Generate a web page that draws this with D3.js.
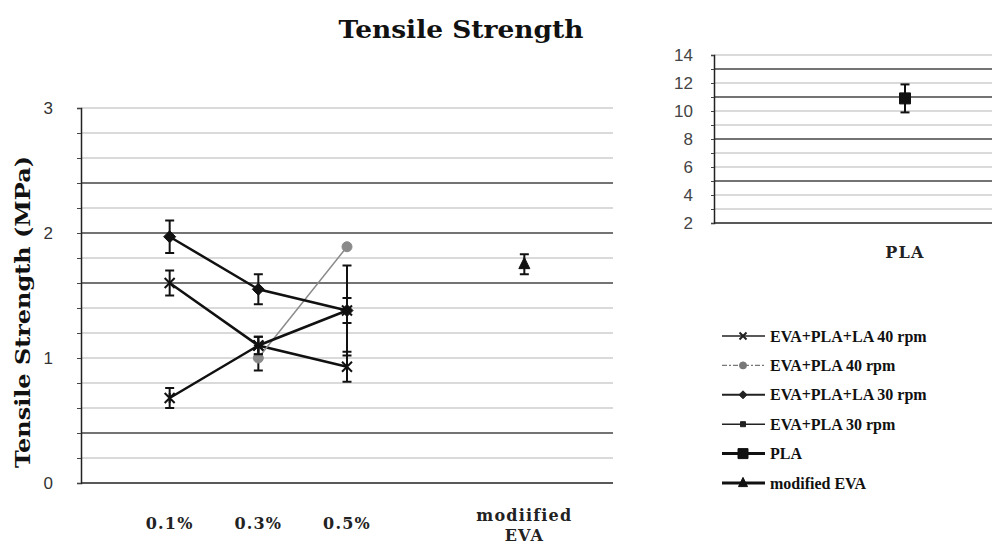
<!DOCTYPE html>
<html>
<head>
<meta charset="utf-8">
<script src="https://cdn.jsdelivr.net/npm/d3@7"></script>
<style>
  body { margin: 0; background: #fff; }
  svg { display: block; }
</style>
</head>
<body>
<svg id="chart" width="992" height="555"></svg>
<script>
// ---- data -------------------------------------------------------------
const categories = ["0.1%", "0.3%", "0.5%", "", "modiified EVA"];
const seriesNames = ["EVA+PLA+LA 40 rpm", "EVA+PLA 40 rpm", "EVA+PLA+LA 30 rpm",
                     "EVA+PLA 30 rpm", "PLA", "modified EVA"];

const evaPlaLa40    = [1.60, 1.10, 0.93];
const evaPlaLa40Err = [0.10, 0.07, 0.12];
const evaPla40      = [null, 1.00, 1.89];
const evaPla40Err   = [null, 0.10, null];
const evaPlaLa30    = [1.97, 1.55, 1.38];
const evaPlaLa30Err = [0.13, 0.12, 0.10];
const evaPla30      = [0.68, 1.10, 1.38];
const evaPla30Err   = [0.08, 0.07, 0.36];
const modifiedEva    = [1.75];
const modifiedEvaErr = [0.08];
const pla    = [10.9];
const plaErr = [1.0];

const mainTickLabels = [0, 1, 2, 3];
const plaTickLabels  = [2, 4, 6, 8, 10, 12, 14];
const mainMajorGrid  = [0.4, 1.6, 2.0, 2.4];
const plaMajorGrid   = [5, 8, 11, 13];

// ---- setup ------------------------------------------------------------
const svg = d3.select("#chart");
svg.append("rect").attr("width", 992).attr("height", 555).attr("fill", "#fff");

const serif = "'DejaVu Serif', 'Liberation Serif', serif";
const timesLike = "'Liberation Serif', 'Times New Roman', serif";
const sans = "'Liberation Sans', Arial, sans-serif";

// marker shapes, centred on 0,0
const markers = {
  times: r => `M${-r},${-r}L${r},${r}M${-r},${r}L${r},${-r}`,
  star: r => `M${-r},${-r}L${r},${r}M${-r},${r}L${r},${-r}M0,${-r}L0,${r}`,
  diamond: r => `M0,${-r}L${r},0L0,${r}L${-r},0Z`,
  square: r => `M${-r},${-r}H${r}V${r}H${-r}Z`,
  triangle: r => `M0,${-r * 1.25}L${r},${r * 0.8}L${-r},${r * 0.8}Z`,
  circle: r => d3.symbol(d3.symbolCircle, Math.PI * r * r)()
};

function drawMarker(g, shape, r, x, y, color, filled) {
  g.append("path")
    .attr("d", markers[shape](r))
    .attr("transform", `translate(${x},${y})`)
    .attr("fill", filled ? color : "none")
    .attr("stroke", color)
    .attr("stroke-width", filled ? 1 : 2);
}

function drawErrorBar(g, x, yScale, v, e) {
  if (v == null || e == null) return;
  const y1 = yScale(v - e), y2 = yScale(v + e);
  g.append("line").attr("x1", x).attr("x2", x).attr("y1", y1).attr("y2", y2)
    .attr("stroke", "#111").attr("stroke-width", 2);
  [y1, y2].forEach(yy => g.append("line")
    .attr("x1", x - 4.5).attr("x2", x + 4.5).attr("y1", yy).attr("y2", yy)
    .attr("stroke", "#111").attr("stroke-width", 2));
}

// ---- main chart -------------------------------------------------------
const main = { left: 81, right: 613, top: 108, bottom: 483 };
const x = d3.scalePoint().domain(categories).range([main.left, main.right]).padding(1);
const y = d3.scaleLinear().domain([0, 3]).range([main.bottom, main.top]);

const gridVals = d3.range(1, 16).map(i => +(i * 0.2).toFixed(1));
svg.append("g").selectAll("line").data(gridVals).join("line")
  .attr("x1", main.left).attr("x2", main.right)
  .attr("y1", d => y(d)).attr("y2", d => y(d))
  .attr("stroke", d => mainMajorGrid.includes(d) ? "#444" : "#b5b5b5")
  .attr("stroke-width", d => mainMajorGrid.includes(d) ? 1.5 : 1);

const yAxis = d3.axisLeft(y)
  .tickValues([0].concat(gridVals))
  .tickSize(4).tickPadding(24)
  .tickFormat(d => mainTickLabels.includes(d) ? d : "");
const gy = svg.append("g").attr("transform", `translate(${main.left},0)`).call(yAxis);
gy.select(".domain").attr("stroke", "#222").attr("stroke-width", 1.5);
gy.selectAll(".tick line").attr("stroke", "#444");
gy.selectAll(".tick text").attr("font-family", sans).attr("font-size", 17).attr("fill", "#333");

svg.append("line").attr("x1", main.left).attr("x2", main.right)
  .attr("y1", main.bottom).attr("y2", main.bottom)
  .attr("stroke", "#222").attr("stroke-width", 1.5);

// category labels
const xl = svg.append("g");
categories.forEach(c => {
  if (!c) return;
  const parts = c.split(" ");
  const t = xl.append("text")
    .attr("x", x(c)).attr("y", parts.length > 1 ? 521 : 529)
    .attr("text-anchor", "middle")
    .attr("font-family", serif).attr("font-weight", "bold").attr("font-size", 16)
    .attr("letter-spacing", 1.2).attr("fill", "#222");
  parts.forEach((p, i) => t.append("tspan").attr("x", x(c)).attr("dy", i ? 20 : 0).text(p));
});

// series
const lineSeries = [
  { name: seriesNames[0], vals: evaPlaLa40, err: evaPlaLa40Err, color: "#111", width: 2.5, marker: "times", r: 5, filled: false },
  { name: seriesNames[1], vals: evaPla40,   err: evaPla40Err,   color: "#8a8a8a", width: 1.5, marker: "circle", r: 5, filled: true },
  { name: seriesNames[2], vals: evaPlaLa30, err: evaPlaLa30Err, color: "#111", width: 2.5, marker: "diamond", r: 6, filled: true },
  { name: seriesNames[3], vals: evaPla30,   err: evaPla30Err,   color: "#111", width: 2.5, marker: "star", r: 5, filled: false }
];

const lineGen = d3.line()
  .defined(d => d.v != null)
  .x(d => x(d.c)).y(d => y(d.v));

const gs = svg.append("g");
lineSeries.forEach(s => {
  const pts = s.vals.map((v, i) => ({ c: categories[i], v, e: s.err[i] }));
  gs.append("path").datum(pts).attr("d", lineGen)
    .attr("fill", "none").attr("stroke", s.color).attr("stroke-width", s.width);
});
lineSeries.forEach(s => {
  s.vals.forEach((v, i) => {
    if (v == null) return;
    drawErrorBar(gs, x(categories[i]), y, v, s.err[i]);
    drawMarker(gs, s.marker, s.r, x(categories[i]), y(v), s.color, s.filled);
  });
});

// modified EVA point
modifiedEva.forEach((v, i) => {
  drawErrorBar(gs, x(categories[4]), y, v, modifiedEvaErr[i]);
  drawMarker(gs, "triangle", 5.5, x(categories[4]), y(v), "#111", true);
});

// titles
svg.append("text").attr("x", 461).attr("y", 38).attr("text-anchor", "middle")
  .attr("font-family", serif).attr("font-weight", "bold").attr("font-size", 25)
  .attr("textLength", 245).attr("lengthAdjust", "spacingAndGlyphs")
  .attr("fill", "#111").text("Tensile Strength");

svg.append("text").attr("transform", "translate(30,312) rotate(-90)")
  .attr("text-anchor", "middle")
  .attr("font-family", serif).attr("font-weight", "bold").attr("font-size", 21)
  .attr("textLength", 312).attr("lengthAdjust", "spacingAndGlyphs")
  .attr("fill", "#111").text("Tensile Strength (MPa)");

// ---- PLA chart --------------------------------------------------------
const side = { left: 714, right: 1096, top: 55, bottom: 223 };
const x2 = d3.scalePoint().domain([seriesNames[4]]).range([side.left, side.right]).padding(0.5);
const y2 = d3.scaleLinear().domain([2, 14]).range([side.bottom, side.top]);

const grid2 = d3.range(3, 15);
svg.append("g").selectAll("line").data(grid2).join("line")
  .attr("x1", side.left).attr("x2", side.right)
  .attr("y1", d => y2(d)).attr("y2", d => y2(d))
  .attr("stroke", d => plaMajorGrid.includes(d) ? "#444" : "#b5b5b5")
  .attr("stroke-width", d => plaMajorGrid.includes(d) ? 1.5 : 1);

const y2Axis = d3.axisLeft(y2)
  .tickValues([2].concat(grid2))
  .tickSize(3).tickPadding(18)
  .tickFormat(d => plaTickLabels.includes(d) ? d : "");
const gy2 = svg.append("g").attr("transform", `translate(${side.left},0)`).call(y2Axis);
gy2.select(".domain").attr("stroke", "#222").attr("stroke-width", 1.5);
gy2.selectAll(".tick line").attr("stroke", "#444");
gy2.selectAll(".tick text").attr("font-family", sans).attr("font-size", 17).attr("fill", "#444");

svg.append("line").attr("x1", side.left).attr("x2", side.right)
  .attr("y1", side.bottom).attr("y2", side.bottom)
  .attr("stroke", "#222").attr("stroke-width", 1.5);

svg.append("text").attr("x", x2(seriesNames[4])).attr("y", 258).attr("text-anchor", "middle")
  .attr("font-family", serif).attr("font-weight", "bold").attr("font-size", 16)
  .attr("letter-spacing", 1.2).attr("fill", "#222").text(seriesNames[4]);

pla.forEach((v, i) => {
  drawErrorBar(svg, x2(seriesNames[4]), y2, v, plaErr[i]);
  drawMarker(svg, "square", 5.5, x2(seriesNames[4]), y2(v), "#111", true);
});

// ---- legend -----------------------------------------------------------
const legendItems = [
  { name: seriesNames[0], marker: "times", r: 3.5, color: "#222", width: 1.5, dash: null, filled: false },
  { name: seriesNames[1], marker: "circle", r: 3.5, color: "#777", width: 1.2, dash: "5,2,2,2", filled: true },
  { name: seriesNames[2], marker: "diamond", r: 4, color: "#222", width: 2, dash: null, filled: true },
  { name: seriesNames[3], marker: "square", r: 2.5, color: "#222", width: 1.5, dash: null, filled: true },
  { name: seriesNames[4], marker: "square", r: 5, color: "#111", width: 3, dash: null, filled: true },
  { name: seriesNames[5], marker: "triangle", r: 4.5, color: "#111", width: 3, dash: null, filled: true }
];
const legend = svg.append("g").attr("transform", "translate(722,336)");
legendItems.forEach((it, i) => {
  const g = legend.append("g").attr("transform", `translate(0,${i * 29.4})`);
  g.append("line").attr("x1", 0).attr("x2", 43).attr("y1", 0).attr("y2", 0)
    .attr("stroke", it.color).attr("stroke-width", it.width)
    .attr("stroke-dasharray", it.dash);
  drawMarker(g, it.marker, it.r, 21, 0, it.color, it.filled);
  g.append("text").attr("x", 48).attr("y", 5.5)
    .attr("font-family", timesLike).attr("font-weight", "bold").attr("font-size", 16)
    .attr("fill", "#111").text(it.name);
});
</script>
</body>
</html>
